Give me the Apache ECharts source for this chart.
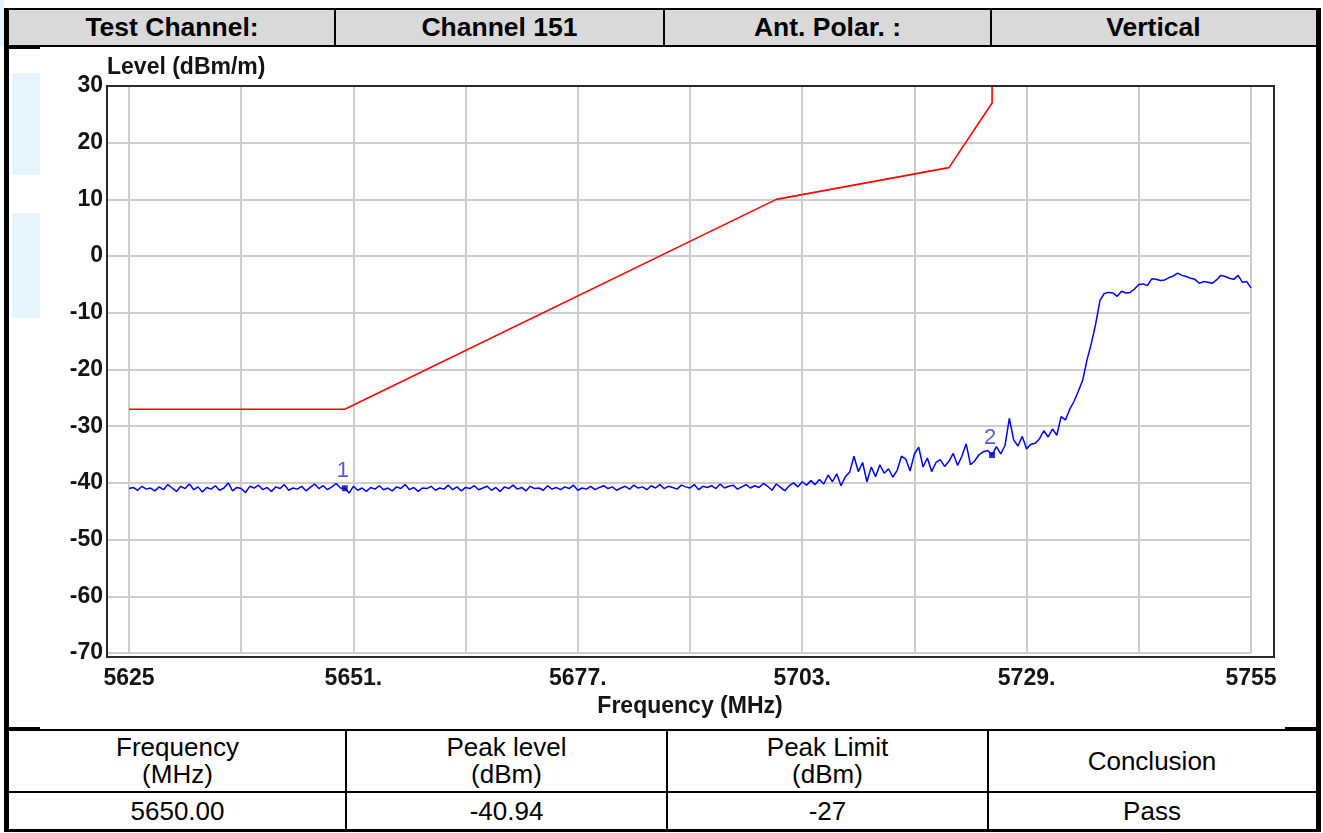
<!DOCTYPE html>
<html>
<head>
<meta charset="utf-8">
<script src="https://cdn.jsdelivr.net/npm/echarts@6/dist/echarts.min.js"></script>
<style>
  html, body { margin: 0; padding: 0; background: #fff; }
  #page { position: relative; width: 1323px; height: 833px; overflow: hidden;
          font-family: "Liberation Sans", Arial, sans-serif; color: #000; }
  .abs { position: absolute; }
  .line { position: absolute; background: #000; }
  .cell { position: absolute; display: flex; align-items: center; justify-content: center;
          text-align: center; white-space: pre-line; }
  .head { font-weight: bold; font-size: 26.5px; }
  .res  { font-size: 26px; line-height: 27px; }
  #chart { position: absolute; left: 0; top: 0; width: 1323px; height: 833px; }
</style>
</head>
<body>
<div id="page">
  <!-- pale blue patches along the left margin -->
  <div class="abs" style="left:0;top:0;width:4px;height:46px;background:#e4f3fd"></div>
  <div class="abs" style="left:12px;top:73px;width:28px;height:102px;background:#e5f4fd"></div>
  <div class="abs" style="left:12px;top:213px;width:28px;height:105px;background:#e5f4fd"></div>

  <!-- header band -->
  <div class="abs" style="left:9px;top:10px;width:1307px;height:35px;background:#d9d9d9"></div>
  <div id="headRow"></div>
  <div id="resRows"></div>

  <!-- outer frame and table rules -->
  <div class="line" style="left:4px;top:8px;width:1317px;height:2px"></div>
  <div class="line" style="left:4px;top:8px;width:5px;height:824px"></div>
  <div class="line" style="left:1316px;top:8px;width:5px;height:824px"></div>
  <div class="line" style="left:4px;top:829px;width:1317px;height:3px"></div>
  <div class="line" style="left:9px;top:45px;width:1307px;height:2px"></div>
  <div class="line" style="left:9px;top:46px;width:31px;height:3px"></div>
  <div class="line" style="left:334px;top:10px;width:2px;height:35px"></div>
  <div class="line" style="left:663px;top:10px;width:2px;height:35px"></div>
  <div class="line" style="left:990px;top:10px;width:2px;height:35px"></div>

  <div class="line" style="left:9px;top:727px;width:31px;height:2px"></div>
  <div class="line" style="left:1285px;top:727px;width:31px;height:2px"></div>
  <div class="line" style="left:9px;top:729px;width:1307px;height:2px"></div>
  <div class="line" style="left:9px;top:791px;width:1307px;height:2px"></div>
  <div class="line" style="left:345px;top:729px;width:2px;height:101px"></div>
  <div class="line" style="left:666px;top:729px;width:2px;height:101px"></div>
  <div class="line" style="left:987px;top:729px;width:2px;height:101px"></div>

  <div id="chart"></div>
</div>

<script>
// ---- header / result table text ----
const headerCells = ['Test Channel:', 'Channel 151', 'Ant. Polar. :', 'Vertical'];
const resultHeads = ['Frequency\n(MHz)', 'Peak level\n(dBm)', 'Peak Limit\n(dBm)', 'Conclusion'];
const resultValues = ['5650.00', '-40.94', '-27', 'Pass'];

// ---- sweep: 5625 .. 5755 MHz, 0.5 MHz steps ----
const freqStart = 5625;
const freqStep = 0.5;
const levels = [
  -41.0, -40.8, -41.3, -40.6, -41.1, -40.9, -41.4, -40.7, -41.2, -40.3,
  -40.9, -41.5, -40.6, -41.0, -40.2, -41.2, -40.7, -41.6, -40.8, -41.1,
  -40.5, -41.3, -40.9, -40.0, -41.4, -40.8, -41.0, -41.7, -40.6, -40.9,
  -40.4, -41.2, -40.8, -41.5, -40.7, -41.0, -40.3, -41.3, -40.9, -41.1,
  -40.6, -41.4, -40.8, -40.2, -41.0, -40.5, -41.2, -40.7, -40.1, -40.9,
  -40.94, -41.8, -40.6, -41.3, -40.9, -41.5, -40.8, -41.1, -40.5, -41.2,
  -40.9, -41.4, -40.7, -41.0, -40.3, -41.2, -40.8, -41.5, -40.9, -41.0,
  -40.6, -41.3, -40.9, -41.1, -40.4, -41.2, -40.7, -41.4, -40.8, -41.0,
  -40.5, -41.2, -40.9, -40.6, -41.3, -40.8, -41.5, -40.7, -41.0, -40.4,
  -41.1, -40.8, -41.4, -40.6, -41.0, -40.9, -41.3, -40.5, -41.1, -40.8,
  -41.2, -40.7, -41.0, -40.4, -41.3, -40.9, -41.1, -40.6, -41.2, -40.8,
  -40.5, -41.0, -40.7, -41.3, -40.9, -40.6, -41.1, -40.4, -40.9, -40.7,
  -41.2, -40.5, -40.9, -40.3, -41.0, -40.6, -40.8, -41.1, -40.4, -40.7,
  -40.9, -40.3, -41.2, -40.6, -40.8, -40.5, -41.0, -40.2, -40.9, -40.6,
  -40.4, -41.1, -40.7, -40.3, -40.9, -40.5, -40.8, -40.1, -40.6, -41.3,
  -40.2, -40.8, -41.4, -40.5, -40.0, -40.7, -39.8, -40.4, -39.6, -40.3,
  -39.4, -40.2, -38.6, -39.8, -38.4, -40.5, -38.9, -38.1, -35.3, -38.0,
  -36.4, -39.8, -37.2, -38.9, -36.8, -38.3, -37.5, -39.0, -37.8, -35.3,
  -35.8, -37.9, -34.9, -33.7, -37.2, -35.6, -38.0, -36.4, -35.9, -37.1,
  -36.2, -34.8, -36.9, -35.3, -33.1, -36.8, -36.1, -35.0, -34.5, -34.3,
  -35.1, -33.6, -34.9, -33.4, -28.6, -32.4, -33.5, -31.8, -34.0, -33.2,
  -33.0, -32.2, -30.8, -31.9, -30.5, -31.6, -28.3, -28.9, -27.0, -25.6,
  -23.8, -21.9, -18.3, -15.4, -12.0, -7.8, -6.6, -6.4, -6.5, -7.1,
  -6.2, -6.5, -6.4, -5.8, -5.0, -4.9, -5.2, -4.0, -4.1, -4.3,
  -4.2, -3.8, -3.5, -3.0, -3.4, -3.6, -3.9, -4.1, -4.8, -4.5,
  -4.6, -4.8, -4.2, -3.4, -3.6, -3.9, -4.1, -3.4, -4.6, -4.5, -5.6
];

// ---- emission mask ----
const limitFreq = [5625, 5650, 5700, 5720, 5725, 5725];
const limitLevel = [-27, -27, 10, 15.6, 27, 30];

// ---- markers ----
const markerNames = ['1', '2'];
const markerFreq = [parseFloat(resultValues[0]), 5725];
const markerLevel = [parseFloat(resultValues[1]), -35.1];

// ---- axes ----
const xMin = 5625, xMax = 5755, xStep = 13;
const yMin = -70, yMax = 30, yStep = 10;
const xLabelValues = [5625, 5651, 5677, 5703, 5729, 5755];
const xLabelTexts = ['5625', '5651.', '5677.', '5703.', '5729.', '5755'];

// ---- build the two tables ----
const headLefts = [9, 335, 664, 991, 1316];
const headRow = document.getElementById('headRow');
headerCells.forEach((t, i) => {
  const d = document.createElement('div');
  d.className = 'cell head';
  d.style.left = headLefts[i] + 'px';
  d.style.width = (headLefts[i + 1] - headLefts[i]) + 'px';
  d.style.top = '10px';
  d.style.height = '35px';
  d.textContent = t;
  headRow.appendChild(d);
});
const resLefts = [9, 346, 667, 988, 1316];
const resRows = document.getElementById('resRows');
[[resultHeads, 731, 60], [resultValues, 793, 37]].forEach(([texts, top, h]) => {
  texts.forEach((t, i) => {
    const d = document.createElement('div');
    d.className = 'cell res';
    d.style.left = resLefts[i] + 'px';
    d.style.width = (resLefts[i + 1] - resLefts[i]) + 'px';
    d.style.top = top + 'px';
    d.style.height = h + 'px';
    d.textContent = t;
    resRows.appendChild(d);
  });
});

// ---- chart ----
const trace = levels.map((v, i) => [freqStart + i * freqStep, v]);
const limit = limitFreq.map((f, i) => [f, limitLevel[i]]);
const markers = markerFreq.map((f, i) => ({ value: [f, markerLevel[i]], name: markerNames[i] }));

const fontFamily = '"Liberation Sans", Arial, sans-serif';
const tickFont = { fontFamily, fontWeight: 'bold', fontSize: 23, color: '#141414' };
const gridLine = { show: true, lineStyle: { color: '#cdcdcd', width: 2 } };

const chart = echarts.init(document.getElementById('chart'), null, { renderer: 'canvas' });
chart.setOption({
  animation: false,
  grid: [
    { left: 129, right: 72, top: 86, bottom: 180 },
    { left: 107, right: 72, top: 86, bottom: 180 }
  ],
  // dark frame around the plot area
  graphic: [{
    type: 'rect', z: 100, silent: true,
    shape: { x: 107, y: 86, width: 1167, height: 571 },
    style: { fill: null, stroke: '#2b2b2b', lineWidth: 2 }
  }],
  xAxis: [
    {
      gridIndex: 0, type: 'value', min: xMin, max: xMax, interval: xStep,
      axisLine: { show: false }, axisTick: { show: false },
      splitLine: gridLine,
      axisLabel: Object.assign({}, tickFont, {
        margin: 14,
        formatter: v => {
          const k = xLabelValues.indexOf(Math.round(v));
          return k >= 0 ? xLabelTexts[k] : '';
        }
      }),
      name: 'Frequency (MHz)', nameLocation: 'middle', nameGap: 41,
      nameTextStyle: Object.assign({}, tickFont, { fontSize: 23 })
    },
    { gridIndex: 1, type: 'value', show: false, min: 0, max: 1 }
  ],
  yAxis: [
    {
      gridIndex: 0, type: 'value', min: yMin, max: yMax, interval: yStep,
      axisLine: { show: false }, axisTick: { show: false },
      splitLine: { show: false },
      axisLabel: Object.assign({}, tickFont, { margin: 26 })
    },
    {
      gridIndex: 1, type: 'value', min: yMin, max: yMax, interval: yStep,
      axisLine: { show: false }, axisTick: { show: false },
      axisLabel: { show: false },
      splitLine: gridLine,
      name: 'Level (dBm/m)', nameLocation: 'end', nameGap: 7,
      nameTextStyle: Object.assign({}, tickFont, { fontSize: 23, align: 'left' })
    }
  ],
  series: [
    {
      type: 'line', xAxisIndex: 0, yAxisIndex: 0, data: limit,
      showSymbol: false, clip: true, z: 3,
      lineStyle: { color: '#ff0000', width: 1.6 }
    },
    {
      type: 'line', xAxisIndex: 0, yAxisIndex: 0, data: trace,
      showSymbol: false, clip: true, z: 4,
      lineStyle: { color: '#0000ff', width: 1.5 }
    },
    {
      type: 'scatter', xAxisIndex: 0, yAxisIndex: 0, data: markers,
      symbol: 'rect', symbolSize: 6, z: 5,
      itemStyle: { color: '#0000b0' },
      label: {
        show: true, position: 'top', distance: 3, offset: [-2, 0],
        formatter: p => p.name,
        fontFamily, fontSize: 22, color: '#2f2fd4'
      }
    }
  ]
});
</script>
</body>
</html>
